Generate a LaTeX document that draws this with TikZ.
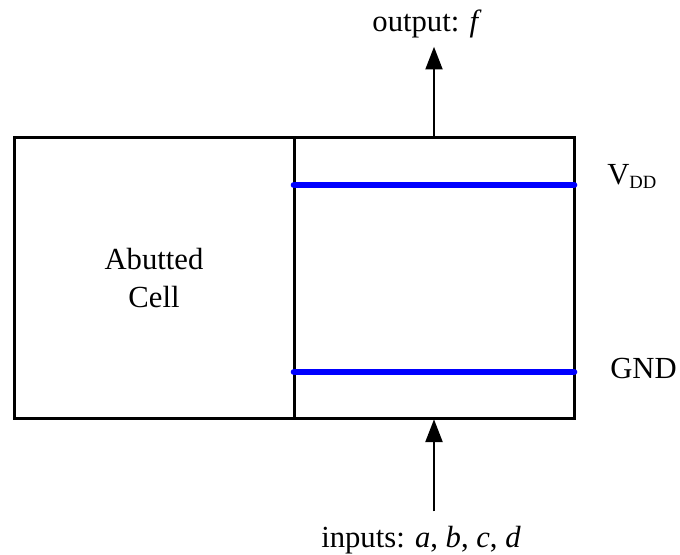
\documentclass[tikz,border=0pt]{standalone}
\usepackage{fontspec}
\setmainfont{Liberation Serif}
\usetikzlibrary{positioning}
\usetikzlibrary{arrows.meta}
\tikzset{cellbox/.style = {draw, rectangle, outer sep=0, inner sep=0,
                           minimum width=210pt, minimum height=210pt,
                           line width=2.25pt, align=center}}
\tikzset{rail/.style = {draw=blue, line width=5pt, line cap=round}}
\tikzset{sig/.style = {-{Triangle[length=17pt,width=12.75pt]}, line width=1.5pt}}
\tikzset{lbl/.style = {inner sep=0pt}}

\begin{document}
\begin{tikzpicture}[x=0.75pt, y=-0.75pt, font=\fontsize{23}{28.5}\selectfont]
        \useasboundingbox (0,0) rectangle (680,555);
        \node[cellbox] (abut) at (154,278) {Abutted\\Cell};
        \node[cellbox] (gate) at (434,278) {};
        \node[lbl, anchor=base west] (vdd) at (607,185)
             {V\raisebox{-3pt}{\fontsize{14}{14}\selectfont DD}};
        \node[lbl, anchor=base west] (gnd) at (610,378) {GND};
        \node[anchor=base, inner sep=6pt] (out) at (427,32) {output: \textit{f}};
        \node[anchor=base, inner sep=10.5pt] (in) at (421,547)
             {inputs: \textit{a}, \textit{b}, \textit{c}, \textit{d}};
        \draw[rail] (gate.west |- vdd.base) -- (gate.east |- vdd.base);
        \draw[rail] (gate.west |- 0,372) -- (gate.east |- 0,372);
        \draw[sig] (gate.north) -- (gate.north |- out.south);
        \draw[sig, shorten >=1pt] (gate.south |- in.north) -- (gate.south);
\end{tikzpicture}
\end{document}
